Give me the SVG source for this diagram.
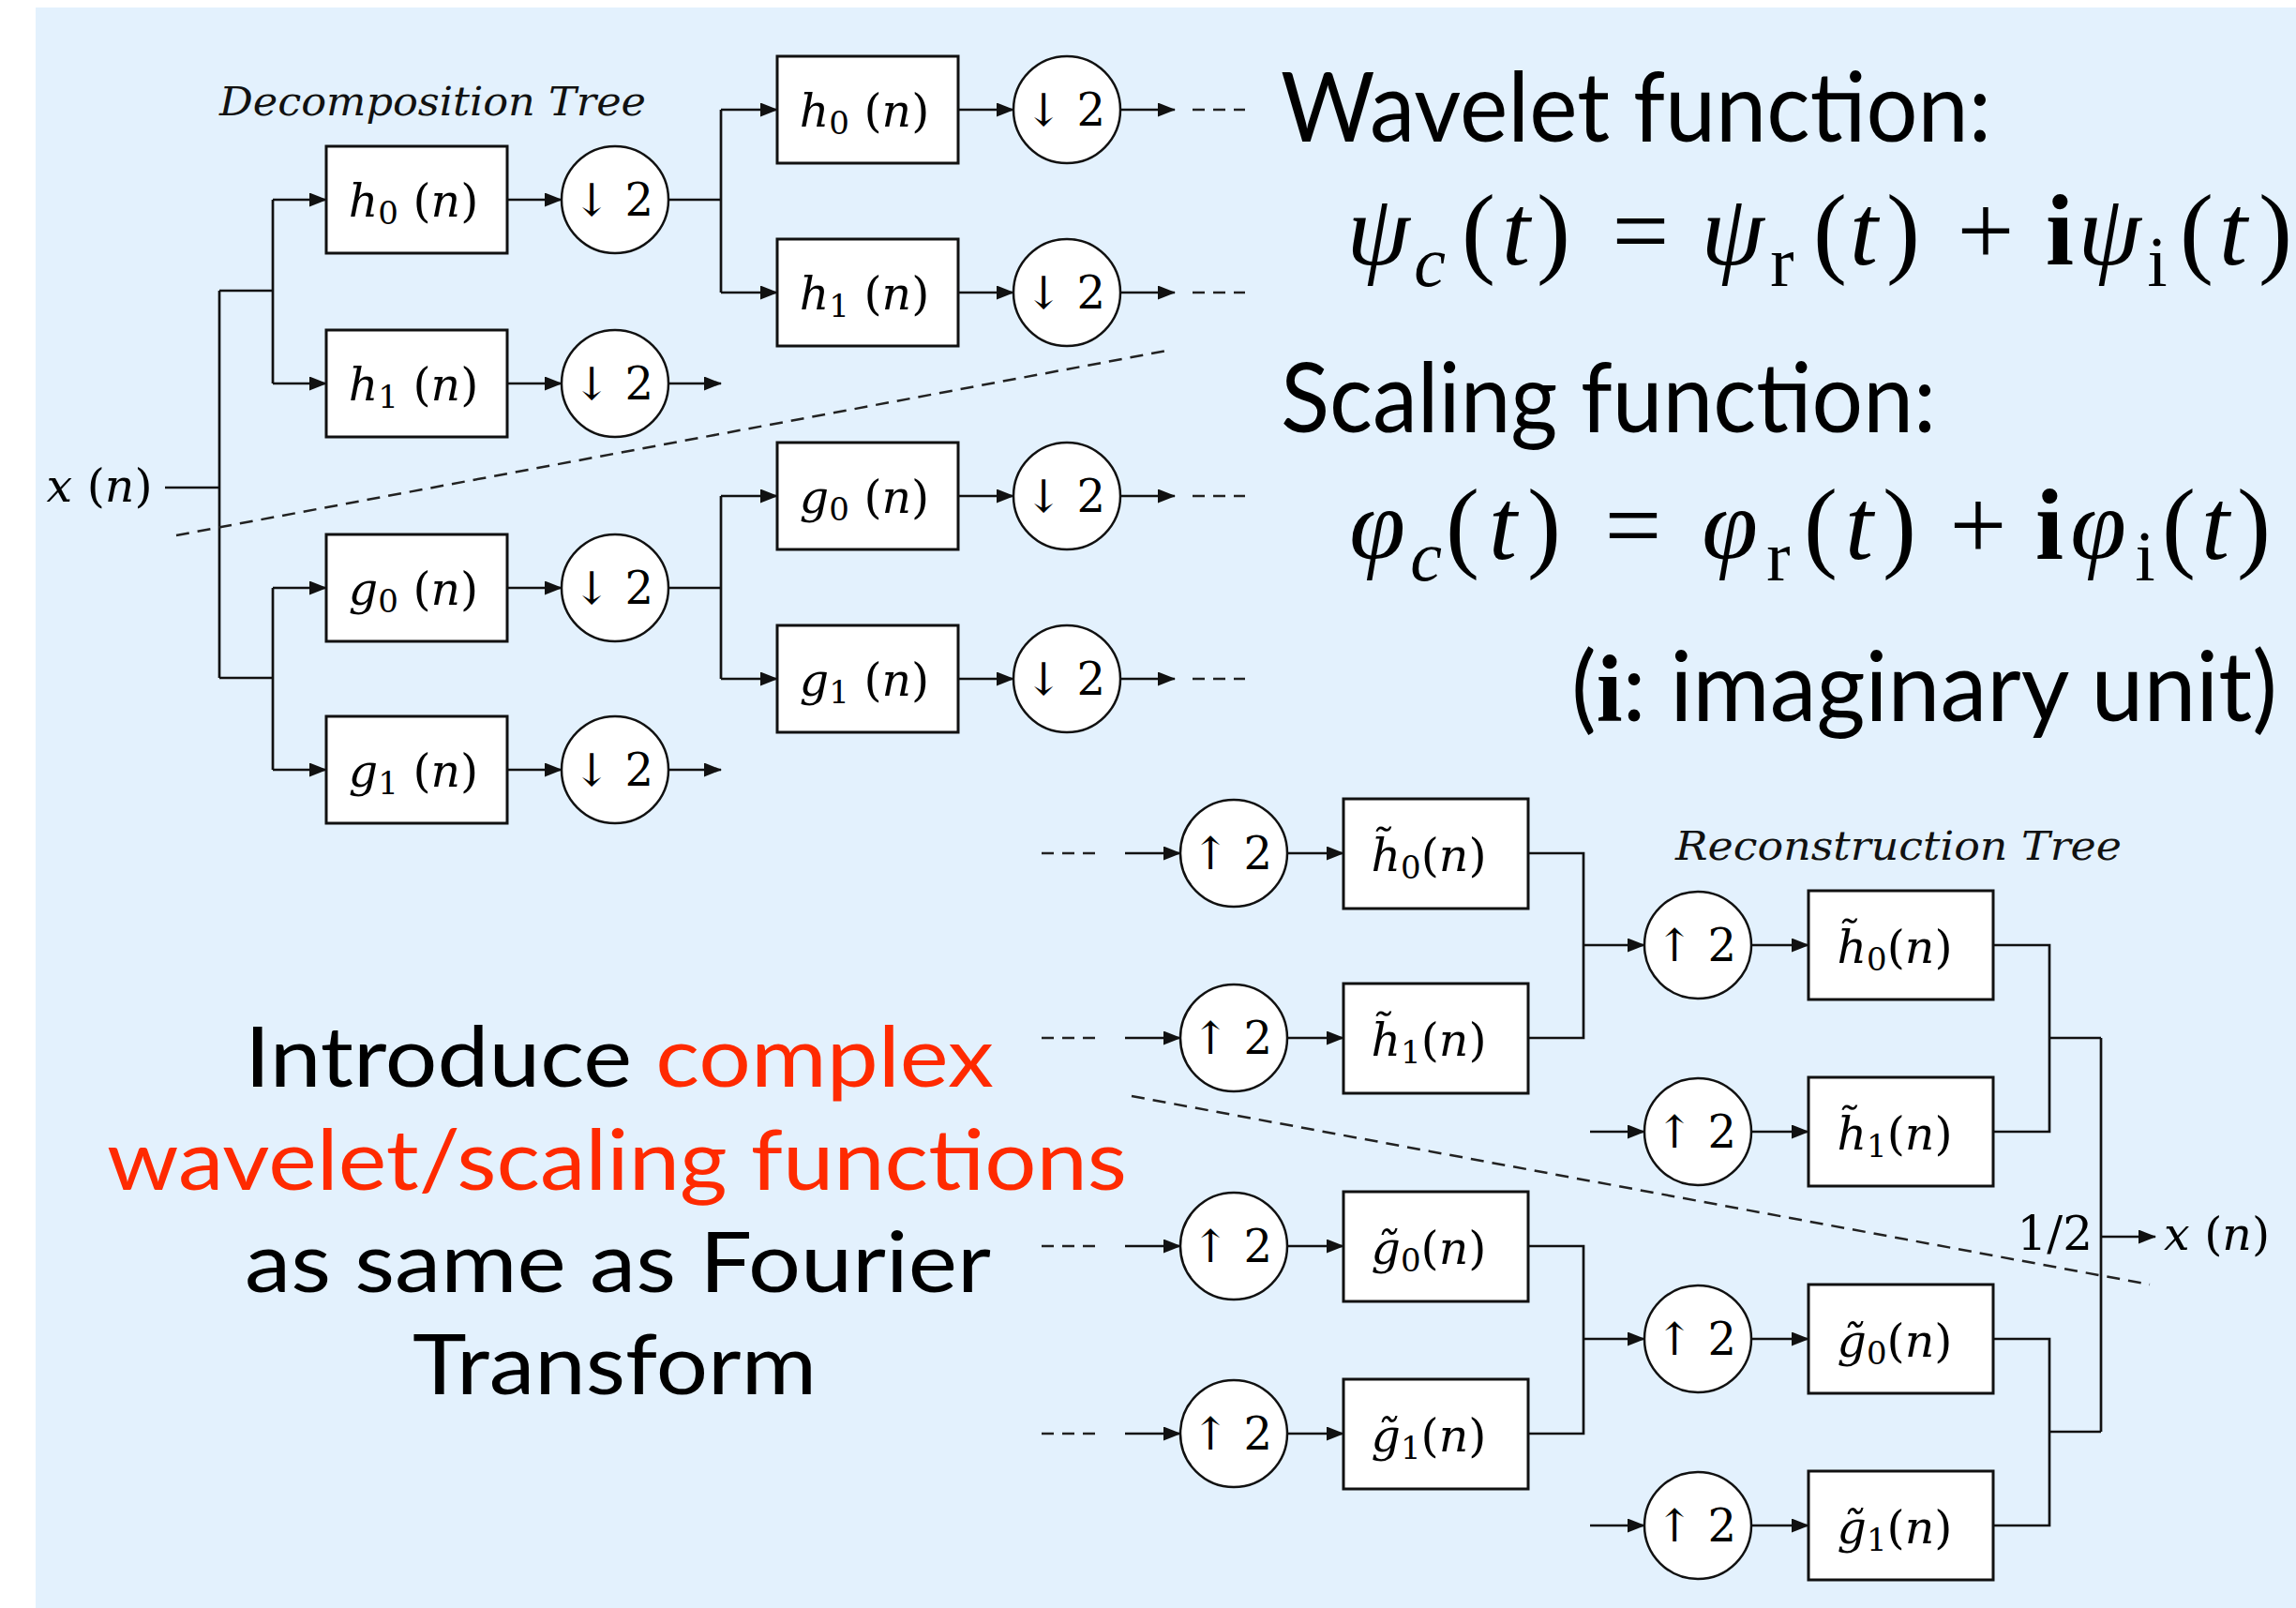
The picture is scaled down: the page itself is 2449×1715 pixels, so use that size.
<svg xmlns="http://www.w3.org/2000/svg" width="2449" height="1715" viewBox="0 0 2449 1715">
<style>
.bg{fill:#E3F1FD}
.box{fill:#fff;stroke:#111;stroke-width:3}
.cir{fill:#fff;stroke:#111;stroke-width:2.5}
.ln{fill:none;stroke:#111;stroke-width:2.7}
.ar{fill:none;stroke:#111;stroke-width:2.7;marker-end:url(#ah)}
.dash{fill:none;stroke:#222;stroke-width:2.5;stroke-dasharray:13 9}
.dg{fill:none;stroke:#222;stroke-width:2.5;stroke-dasharray:14 9}
.lab{font-family:"DejaVu Serif","Liberation Serif",serif;font-size:49px;fill:#000;text-anchor:middle}
.clab{font-family:"DejaVu Serif","DejaVu Sans",serif;font-size:48px;fill:#000;text-anchor:middle}
.it{font-style:italic}
.sub{font-size:34px}
.ttl{font-family:"DejaVu Serif","Liberation Serif",serif;font-style:italic;font-size:43px;fill:#111}
.big{font-family:Lato,"Open Sans",sans-serif;font-size:102px;fill:#000}
.mid{font-family:Lato,"Open Sans",sans-serif;font-size:90px;fill:#000}
.red{fill:#FF2A00}
.eq{font-family:"Liberation Serif","Times New Roman",serif;font-size:108px;fill:#000;text-anchor:middle}
.eqs{font-size:76px}
.bi{font-weight:bold;font-style:normal}
</style>
<defs>
<marker id="ah" markerUnits="userSpaceOnUse" markerWidth="19" markerHeight="15" refX="18" refY="7.5" orient="auto">
<path d="M0,0 L19,7.5 L0,15 z" fill="#111"/>
</marker>
</defs>
<rect class="bg" x="38" y="8" width="2411" height="1707"/>

<g id="connectors">
<!-- decomposition -->
<path class="ln" d="M176,520 H234 M234,310 V723 M234,310 H291 M234,723 H291 M291,213 V409 M291,627 V821"/>
<path class="ar" d="M291,213 H348"/>
<path class="ar" d="M291,409 H348"/>
<path class="ar" d="M291,627 H348"/>
<path class="ar" d="M291,821 H348"/>
<path class="ar" d="M541,213 H599"/>
<path class="ar" d="M541,409 H599"/>
<path class="ar" d="M541,627 H599"/>
<path class="ar" d="M541,821 H599"/>
<path class="ar" d="M713,409 H769"/>
<path class="ar" d="M713,821 H769"/>
<path class="ln" d="M713,213 H769 M769,117 V312 M713,627 H769 M769,529 V724"/>
<path class="ar" d="M769,117 H829"/>
<path class="ar" d="M769,312 H829"/>
<path class="ar" d="M769,529 H829"/>
<path class="ar" d="M769,724 H829"/>
<path class="ar" d="M1022,117 H1081"/>
<path class="ar" d="M1022,312 H1081"/>
<path class="ar" d="M1022,529 H1081"/>
<path class="ar" d="M1022,724 H1081"/>
<path class="ar" d="M1195,117 H1253"/>
<path class="ar" d="M1195,312 H1253"/>
<path class="ar" d="M1195,529 H1253"/>
<path class="ar" d="M1195,724 H1253"/>
<path class="dash" d="M1272,117 H1328 M1272,312 H1328 M1272,529 H1328 M1272,724 H1328"/>
<path class="dg" d="M188,571 L1250,373"/>
<!-- reconstruction -->
<path class="dash" d="M1111,910 H1169 M1111,1107 H1169 M1111,1329 H1169 M1111,1529 H1169"/>
<path class="ar" d="M1200,910 H1259"/>
<path class="ar" d="M1200,1107 H1259"/>
<path class="ar" d="M1200,1329 H1259"/>
<path class="ar" d="M1200,1529 H1259"/>
<path class="ar" d="M1373,910 H1433"/>
<path class="ar" d="M1373,1107 H1433"/>
<path class="ar" d="M1373,1329 H1433"/>
<path class="ar" d="M1373,1529 H1433"/>
<path class="ln" d="M1630,910 H1689 V1107 H1630 M1630,1329 H1689 V1529 H1630"/>
<path class="ar" d="M1689,1008 H1754"/>
<path class="ar" d="M1689,1428 H1754"/>
<path class="ar" d="M1696,1207 H1754"/>
<path class="ar" d="M1696,1627 H1754"/>
<path class="ar" d="M1868,1008 H1929"/>
<path class="ar" d="M1868,1207 H1929"/>
<path class="ar" d="M1868,1428 H1929"/>
<path class="ar" d="M1868,1627 H1929"/>
<path class="ln" d="M2126,1008 H2186 V1207 H2126 M2186,1107 H2241 M2126,1428 H2186 V1627 H2126 M2186,1527 H2241 M2241,1107 V1527"/>
<path class="ar" d="M2241,1319 H2299"/>
<path class="dg" d="M1207,1169 L2293,1370"/>
</g>

<g id="input"><text class="lab" x="106" y="535"><tspan class="it">x</tspan> (<tspan class="it">n</tspan>)</text></g>
<g id="decomp-title"><text class="ttl" x="234" y="123" textLength="455" lengthAdjust="spacingAndGlyphs">Decomposition Tree</text></g>

<g id="d1-h0"><rect class="box" x="348" y="156" width="193" height="114"/><text class="lab" x="441" y="231"><tspan class="it">h</tspan><tspan class="sub" dy="8">0</tspan><tspan dy="-8"> (</tspan><tspan class="it">n</tspan>)</text></g>
<g id="d1-h1"><rect class="box" x="348" y="352" width="193" height="114"/><text class="lab" x="441" y="427"><tspan class="it">h</tspan><tspan class="sub" dy="8">1</tspan><tspan dy="-8"> (</tspan><tspan class="it">n</tspan>)</text></g>
<g id="d1-g0"><rect class="box" x="348" y="570" width="193" height="114"/><text class="lab" x="441" y="645"><tspan class="it">g</tspan><tspan class="sub" dy="8">0</tspan><tspan dy="-8"> (</tspan><tspan class="it">n</tspan>)</text></g>
<g id="d1-g1"><rect class="box" x="348" y="764" width="193" height="114"/><text class="lab" x="441" y="839"><tspan class="it">g</tspan><tspan class="sub" dy="8">1</tspan><tspan dy="-8"> (</tspan><tspan class="it">n</tspan>)</text></g>

<g id="d1-c0"><circle class="cir" cx="656" cy="213" r="57"/><text class="clab" x="654" y="230">↓ 2</text></g>
<g id="d1-c1"><circle class="cir" cx="656" cy="409" r="57"/><text class="clab" x="654" y="426">↓ 2</text></g>
<g id="d1-c2"><circle class="cir" cx="656" cy="627" r="57"/><text class="clab" x="654" y="644">↓ 2</text></g>
<g id="d1-c3"><circle class="cir" cx="656" cy="821" r="57"/><text class="clab" x="654" y="838">↓ 2</text></g>

<g id="d2-h0"><rect class="box" x="829" y="60" width="193" height="114"/><text class="lab" x="922" y="135"><tspan class="it">h</tspan><tspan class="sub" dy="8">0</tspan><tspan dy="-8"> (</tspan><tspan class="it">n</tspan>)</text></g>
<g id="d2-h1"><rect class="box" x="829" y="255" width="193" height="114"/><text class="lab" x="922" y="330"><tspan class="it">h</tspan><tspan class="sub" dy="8">1</tspan><tspan dy="-8"> (</tspan><tspan class="it">n</tspan>)</text></g>
<g id="d2-g0"><rect class="box" x="829" y="472" width="193" height="114"/><text class="lab" x="922" y="547"><tspan class="it">g</tspan><tspan class="sub" dy="8">0</tspan><tspan dy="-8"> (</tspan><tspan class="it">n</tspan>)</text></g>
<g id="d2-g1"><rect class="box" x="829" y="667" width="193" height="114"/><text class="lab" x="922" y="742"><tspan class="it">g</tspan><tspan class="sub" dy="8">1</tspan><tspan dy="-8"> (</tspan><tspan class="it">n</tspan>)</text></g>

<g id="d2-c0"><circle class="cir" cx="1138" cy="117" r="57"/><text class="clab" x="1136" y="134">↓ 2</text></g>
<g id="d2-c1"><circle class="cir" cx="1138" cy="312" r="57"/><text class="clab" x="1136" y="329">↓ 2</text></g>
<g id="d2-c2"><circle class="cir" cx="1138" cy="529" r="57"/><text class="clab" x="1136" y="546">↓ 2</text></g>
<g id="d2-c3"><circle class="cir" cx="1138" cy="724" r="57"/><text class="clab" x="1136" y="741">↓ 2</text></g>

<g id="recon-title"><text class="ttl" x="1787" y="917" textLength="476" lengthAdjust="spacingAndGlyphs">Reconstruction Tree</text></g>

<g id="r1-c0"><circle class="cir" cx="1316" cy="910" r="57"/><text class="clab" x="1314" y="927">↑ 2</text></g>
<g id="r1-c1"><circle class="cir" cx="1316" cy="1107" r="57"/><text class="clab" x="1314" y="1124">↑ 2</text></g>
<g id="r1-c2"><circle class="cir" cx="1316" cy="1329" r="57"/><text class="clab" x="1314" y="1346">↑ 2</text></g>
<g id="r1-c3"><circle class="cir" cx="1316" cy="1529" r="57"/><text class="clab" x="1314" y="1546">↑ 2</text></g>

<g id="r1-h0"><rect class="box" x="1433" y="852" width="197" height="117"/><text class="lab" x="1524" y="929"><tspan class="it">h̃</tspan><tspan class="sub" dy="8">0</tspan><tspan dy="-8">(</tspan><tspan class="it">n</tspan>)</text></g>
<g id="r1-h1"><rect class="box" x="1433" y="1049" width="197" height="117"/><text class="lab" x="1524" y="1126"><tspan class="it">h̃</tspan><tspan class="sub" dy="8">1</tspan><tspan dy="-8">(</tspan><tspan class="it">n</tspan>)</text></g>
<g id="r1-g0"><rect class="box" x="1433" y="1271" width="197" height="117"/><text class="lab" x="1524" y="1348"><tspan class="it">g̃</tspan><tspan class="sub" dy="8">0</tspan><tspan dy="-8">(</tspan><tspan class="it">n</tspan>)</text></g>
<g id="r1-g1"><rect class="box" x="1433" y="1471" width="197" height="117"/><text class="lab" x="1524" y="1548"><tspan class="it">g̃</tspan><tspan class="sub" dy="8">1</tspan><tspan dy="-8">(</tspan><tspan class="it">n</tspan>)</text></g>

<g id="r2-c0"><circle class="cir" cx="1811" cy="1008" r="57"/><text class="clab" x="1809" y="1025">↑ 2</text></g>
<g id="r2-c1"><circle class="cir" cx="1811" cy="1207" r="57"/><text class="clab" x="1809" y="1224">↑ 2</text></g>
<g id="r2-c2"><circle class="cir" cx="1811" cy="1428" r="57"/><text class="clab" x="1809" y="1445">↑ 2</text></g>
<g id="r2-c3"><circle class="cir" cx="1811" cy="1627" r="57"/><text class="clab" x="1809" y="1644">↑ 2</text></g>

<g id="r2-h0"><rect class="box" x="1929" y="950" width="197" height="116"/><text class="lab" x="2021" y="1027"><tspan class="it">h̃</tspan><tspan class="sub" dy="8">0</tspan><tspan dy="-8">(</tspan><tspan class="it">n</tspan>)</text></g>
<g id="r2-h1"><rect class="box" x="1929" y="1149" width="197" height="116"/><text class="lab" x="2021" y="1226"><tspan class="it">h̃</tspan><tspan class="sub" dy="8">1</tspan><tspan dy="-8">(</tspan><tspan class="it">n</tspan>)</text></g>
<g id="r2-g0"><rect class="box" x="1929" y="1370" width="197" height="116"/><text class="lab" x="2021" y="1447"><tspan class="it">g̃</tspan><tspan class="sub" dy="8">0</tspan><tspan dy="-8">(</tspan><tspan class="it">n</tspan>)</text></g>
<g id="r2-g1"><rect class="box" x="1929" y="1569" width="197" height="116"/><text class="lab" x="2021" y="1646"><tspan class="it">g̃</tspan><tspan class="sub" dy="8">1</tspan><tspan dy="-8">(</tspan><tspan class="it">n</tspan>)</text></g>

<g id="output">
<text class="lab" x="2232" y="1333" style="text-anchor:end;font-size:50px">1/2</text>
<text class="lab" x="2308" y="1333" style="text-anchor:start"><tspan class="it">x</tspan> (<tspan class="it">n</tspan>)</text>
</g>

<g id="wavelet-text">
<text class="big" x="1366" y="151" textLength="758" lengthAdjust="spacingAndGlyphs">Wavelet function:</text>
<text class="eq" y="282"><tspan class="it" x="1470">ψ</tspan><tspan class="it eqs" x="1525" y="305">c</tspan><tspan x="1577" y="282">(</tspan><tspan class="it" x="1617">t</tspan><tspan x="1657">)</tspan><tspan x="1750">=</tspan><tspan class="it" x="1848">ψ</tspan><tspan class="eqs" x="1901" y="305">r</tspan><tspan x="1952" y="282">(</tspan><tspan class="it" x="1988">t</tspan><tspan x="2030">)</tspan><tspan x="2118">+</tspan><tspan class="bi" x="2197">i</tspan><tspan class="it" x="2250">ψ</tspan><tspan class="eqs" x="2301" y="305">i</tspan><tspan x="2343" y="282">(</tspan><tspan class="it" x="2382">t</tspan><tspan x="2427">)</tspan></text>
</g>

<g id="scaling-text">
<text class="big" x="1366" y="461" textLength="699" lengthAdjust="spacingAndGlyphs">Scaling function:</text>
<text class="eq" y="596"><tspan class="it" x="1469">φ</tspan><tspan class="it eqs" x="1521" y="619">c</tspan><tspan x="1560" y="596">(</tspan><tspan class="it" x="1603">t</tspan><tspan x="1647">)</tspan><tspan x="1742">=</tspan><tspan class="it" x="1845">φ</tspan><tspan class="eqs" x="1897" y="619">r</tspan><tspan x="1942" y="596">(</tspan><tspan class="it" x="1983">t</tspan><tspan x="2026">)</tspan><tspan x="2110">+</tspan><tspan class="bi" x="2186">i</tspan><tspan class="it" x="2238">φ</tspan><tspan class="eqs" x="2288" y="619">i</tspan><tspan x="2324" y="596">(</tspan><tspan class="it" x="2363">t</tspan><tspan x="2404">)</tspan></text>
<text class="big" x="1676" y="769" textLength="753" lengthAdjust="spacingAndGlyphs">(<tspan style="font-family:'Liberation Serif',serif;font-weight:bold">i</tspan>: imaginary unit)</text>
</g>

<g id="intro-text">
<text class="mid" x="261" y="1159" textLength="799" lengthAdjust="spacingAndGlyphs">Introduce <tspan class="red">complex</tspan></text>
<text class="mid red" x="114" y="1269" textLength="1088" lengthAdjust="spacingAndGlyphs">wavelet/scaling functions</text>
<text class="mid" x="261" y="1378" textLength="796" lengthAdjust="spacingAndGlyphs">as same as Fourier</text>
<text class="mid" x="440" y="1487" textLength="431" lengthAdjust="spacingAndGlyphs">Transform</text>
</g>
</svg>
